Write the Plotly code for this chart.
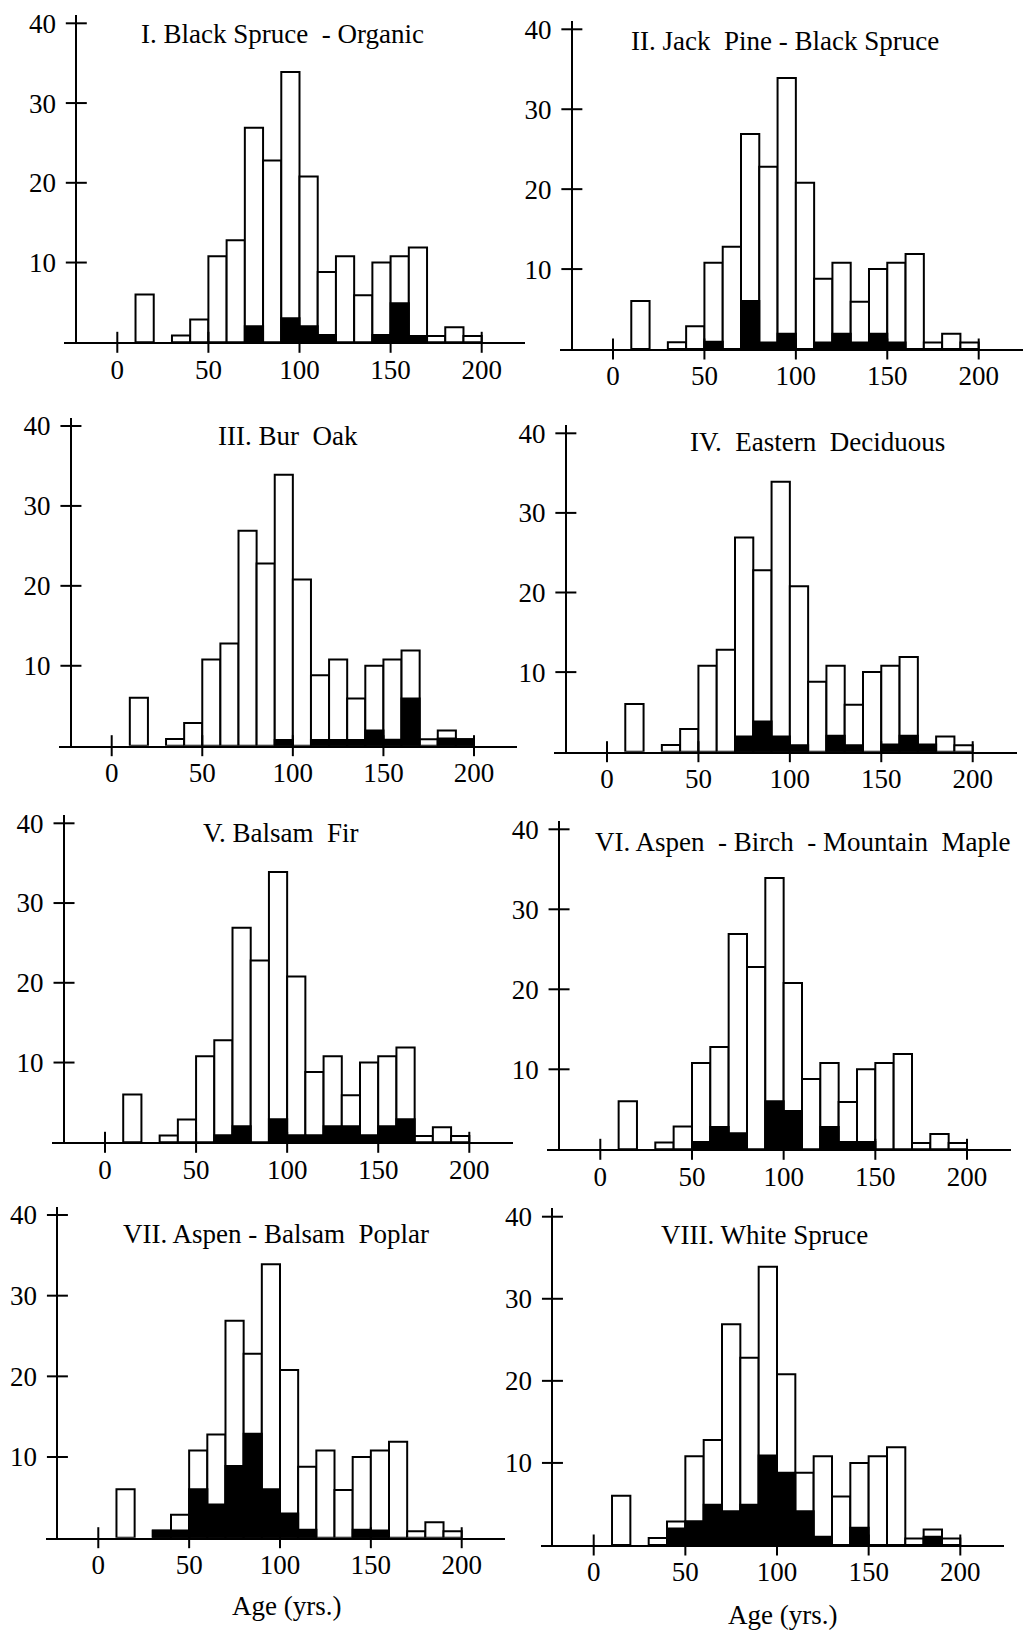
import plotly.graph_objects as go

# ---------------- data ----------------
bin_start = [10, 30, 40, 50, 60, 70, 80, 90, 100, 110, 120, 130, 140, 150, 160, 170, 180, 190]
bin_width = 10
total_all = [6.0, 0.85, 2.85, 10.8, 12.8, 26.9, 22.8, 33.9, 20.8, 8.8, 10.8, 5.9, 10.0, 10.8, 11.9, 0.8, 1.9, 0.8]

titles = [
    "I. Black Spruce  - Organic",
    "II. Jack  Pine - Black Spruce",
    "III. Bur  Oak",
    "IV.  Eastern  Deciduous",
    "V. Balsam  Fir",
    "VI. Aspen  - Birch  - Mountain  Maple",
    "VII. Aspen - Balsam  Poplar",
    "VIII. White Spruce",
]

black_I    = [0, 0, 0, 0, 0, 2.0, 0, 3.0, 2.0, 0.9, 0, 0, 0.9, 4.9, 0.8, 0, 0, 0]
black_II   = [0, 0, 0, 0.9, 0, 6.0, 0.8, 1.9, 0, 0.8, 1.9, 0.8, 1.9, 0.8, 0, 0, 0, 0]
black_III  = [0, 0, 0, 0, 0, 0, 0, 0.7, 0, 0.7, 0.7, 0.7, 1.9, 0.75, 5.9, 0, 0.9, 0.8]
black_IV   = [0, 0, 0, 0, 0, 1.9, 3.8, 1.9, 0.8, 0, 2.0, 0.8, 0, 0.9, 2.0, 0.9, 0, 0]
black_V    = [0, 0, 0, 0, 0.9, 2.0, 0, 2.9, 0.9, 0.9, 2.0, 2.0, 0.9, 2.0, 2.9, 0, 0, 0]
black_VI   = [0, 0, 0, 0.9, 2.8, 2.0, 0, 6.0, 4.8, 0, 2.8, 0.9, 0.9, 0, 0, 0, 0, 0]
black_VII  = [0, 0.9, 0.9, 6.0, 4.1, 8.9, 12.9, 6.0, 3.0, 1.0, 0, 0, 1.0, 0.9, 0, 0, 0, 0]
black_VIII = [0, 0, 2.0, 2.9, 4.9, 4.1, 4.9, 10.9, 8.8, 4.1, 1.0, 0, 2.1, 0, 0, 0, 1.0, 0]
black_series = [black_I, black_II, black_III, black_IV, black_V, black_VI, black_VII, black_VIII]

x_ticks = [0, 50, 100, 150, 200]
y_ticks = [10, 20, 30, 40]
x_label = "Age (yrs.)"

# ---------------- layout geometry (pixels in the 1024x1631 page) ----------------
W, H = 1024, 1631
XMIN, XMAX = -29, 224
YMAX = 41
YAXIS_AT = -22.5
# per panel: pixel of x=0, x=200, y=0, y=40
panel_px = [
    (117.3, 481.7, 342.3, 23.3),
    (613.0, 978.7, 349.0, 29.3),
    (111.7, 474.0, 745.7, 426.0),
    (607.0, 972.7, 751.7, 433.3),
    (105.0, 469.3, 1142.3, 823.3),
    (600.3, 967.0, 1149.3, 829.3),
    (98.3, 461.7, 1537.7, 1215.0),
    (593.7, 960.3, 1545.0, 1216.7),
]
title_px = [
    (282.5, 34), (784.5, 41), (288, 436), (817, 442),
    (281, 833), (802, 842), (276, 1234), (764.5, 1235),
]
xlabel_px = [(286.7, 1606), (782, 1615)]

FONT = "Liberation Serif"
FS = 27

fig = go.Figure()
layout_axes = {}
annotations = []

centers = [s + bin_width / 2 for s in bin_start]

for i, (p0, p200, q0, q40) in enumerate(panel_px):
    n = i + 1
    xa = "x" if n == 1 else f"x{n}"
    ya = "y" if n == 1 else f"y{n}"
    sx = (p200 - p0) / 200.0
    sy = (q0 - q40) / 40.0
    xdom = [(p0 + XMIN * sx) / W, (p0 + XMAX * sx) / W]
    ydom = [1 - q0 / H, 1 - (q0 - YMAX * sy) / H]
    ypos = (p0 + YAXIS_AT * sx) / W

    fig.add_trace(go.Bar(
        x=centers, y=total_all, width=bin_width, xaxis=xa, yaxis=ya,
        marker=dict(color="white", line=dict(color="black", width=2)),
        showlegend=False, hoverinfo="skip",
    ))
    bx = [c for c, v in zip(centers, black_series[i]) if v > 0]
    by = [v for v in black_series[i] if v > 0]
    fig.add_trace(go.Bar(
        x=bx, y=by, width=bin_width, xaxis=xa, yaxis=ya,
        marker=dict(color="black", line=dict(color="black", width=2)),
        showlegend=False, hoverinfo="skip",
    ))
    # crossing tick marks
    fig.add_trace(go.Scatter(
        x=[YAXIS_AT] * len(y_ticks), y=y_ticks, mode="markers", xaxis=xa, yaxis=ya,
        marker=dict(symbol="line-ew", size=15, color="black", line=dict(color="black", width=2)),
        cliponaxis=False, showlegend=False, hoverinfo="skip",
    ))
    fig.add_trace(go.Scatter(
        x=x_ticks, y=[0] * len(x_ticks), mode="markers", xaxis=xa, yaxis=ya,
        marker=dict(symbol="line-ns", size=15, color="black", line=dict(color="black", width=2)),
        cliponaxis=False, showlegend=False, hoverinfo="skip",
    ))

    kx = "xaxis" if n == 1 else f"xaxis{n}"
    ky = "yaxis" if n == 1 else f"yaxis{n}"
    layout_axes[kx] = dict(
        domain=xdom, range=[XMIN, XMAX], anchor=ya, automargin=False,
        showline=True, linecolor="black", linewidth=2,
        tickvals=x_ticks, ticks="", showgrid=False, zeroline=False,
        tickfont=dict(family=FONT, size=FS, color="black"),
        ticklabelstandoff=2, fixedrange=True,
    )
    layout_axes[ky] = dict(
        domain=ydom, range=[0, YMAX], anchor="free", position=ypos, automargin=False,
        showline=True, linecolor="black", linewidth=2,
        tickvals=y_ticks, ticks="", showgrid=False, zeroline=False,
        tickfont=dict(family=FONT, size=FS, color="black"),
        ticklabelstandoff=14, fixedrange=True,
    )

    tx, ty = title_px[i]
    annotations.append(dict(
        text=titles[i], x=tx / W, y=1 - ty / H, xref="paper", yref="paper",
        xanchor="center", yanchor="middle", showarrow=False,
        font=dict(family=FONT, size=FS, color="black"),
    ))

for lx, ly in xlabel_px:
    annotations.append(dict(
        text=x_label, x=lx / W, y=1 - ly / H, xref="paper", yref="paper",
        xanchor="center", yanchor="middle", showarrow=False,
        font=dict(family=FONT, size=FS, color="black"),
    ))

fig.update_layout(
    width=W, height=H,
    margin=dict(l=0, r=0, t=0, b=0, pad=0, autoexpand=False),
    paper_bgcolor="white", plot_bgcolor="white",
    barmode="overlay", showlegend=False,
    annotations=annotations,
    font=dict(family=FONT, size=FS, color="black"),
    **layout_axes,
)

page_fix = (
    "document.documentElement.style.margin='0';"
    "document.documentElement.style.padding='0';"
    "document.documentElement.style.overflow='hidden';"
    "document.body.style.margin='0';"
    "document.body.style.padding='0';"
    "document.body.style.overflow='hidden';"
    "var g=document.getElementById('{plot_id}');"
    "g.style.position='absolute';g.style.top='0px';g.style.left='0px';"
)

fig.write_html(
    "out.html",
    config={"displayModeBar": False, "staticPlot": True},
    post_script=page_fix,
)
